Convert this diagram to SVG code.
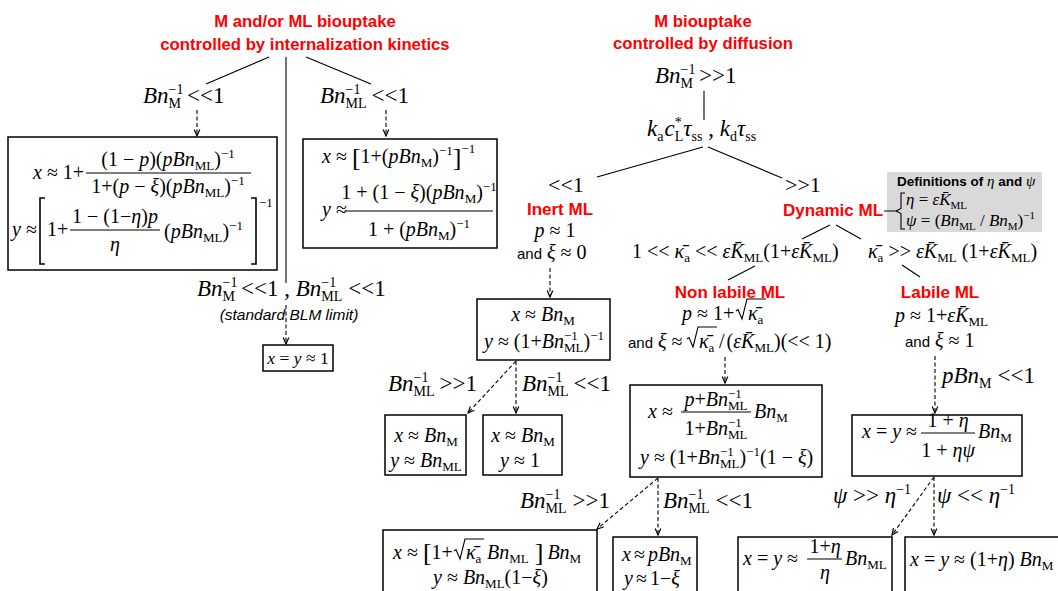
<svg xmlns="http://www.w3.org/2000/svg" width="1058" height="591" viewBox="0 0 1058 591">
<defs>
<style>
.s{font-family:"Liberation Serif","Times New Roman",serif;font-size:20px;fill:#000}
.l{font-size:23px}
.i{font-style:italic}
.c{font-size:13px}
.cl{font-size:14px}
.a{font-family:"Liberation Sans",Arial,sans-serif;font-size:15px}
.db{font-family:"Liberation Sans",Arial,sans-serif;font-size:13.5px;font-weight:bold;font-style:normal}
.r{font-family:"Liberation Sans",Arial,sans-serif;font-weight:bold;fill:#ff0000;font-size:17px}
.t{font-size:16.7px}
.ln{stroke:#000;stroke-width:1.1;fill:none}
.d{stroke-dasharray:4 2.5;marker-end:url(#ah)}
.bx{fill:#fff;stroke:#000;stroke-width:1.5}
.br{stroke:#000;stroke-width:1.6;fill:none}
</style>
<marker id="ah" viewBox="0 0 10 10" refX="9" refY="5" markerWidth="8" markerHeight="8" markerUnits="userSpaceOnUse" orient="auto"><path d="M1,1.5 L9,5 L1,8.5" fill="none" stroke="#000" stroke-width="1.5"/></marker>
</defs>
<rect width="1058" height="591" fill="#fff"/>

<g id="connectors" class="ln">
<line x1="269" y1="57" x2="206" y2="84"/>
<line x1="286" y1="57" x2="286" y2="283"/>
<line x1="306" y1="57" x2="371" y2="84"/>
<line x1="704" y1="91" x2="704" y2="120"/>
<line x1="703" y1="147" x2="597" y2="177"/>
<line x1="708" y1="147" x2="782" y2="178"/>
<line x1="830" y1="225" x2="802" y2="239"/>
<line x1="836" y1="225" x2="861" y2="239"/>
<line x1="755" y1="266" x2="728" y2="280"/>
<line x1="902" y1="265" x2="920" y2="277"/>
<line class="d" x1="197" y1="110" x2="197" y2="136"/>
<line class="d" x1="386" y1="110" x2="386" y2="136"/>
<line class="d" x1="286" y1="305" x2="286" y2="344"/>
<line class="d" x1="550" y1="268" x2="550" y2="297"/>
<line class="d" x1="516" y1="361" x2="468" y2="413"/>
<line class="d" x1="516" y1="361" x2="516" y2="413"/>
<line class="d" x1="725" y1="357" x2="725" y2="383"/>
<line class="d" x1="935" y1="356" x2="935" y2="413"/>
<line class="d" x1="658" y1="478" x2="597" y2="529"/>
<line class="d" x1="658" y1="478" x2="658" y2="535"/>
<line class="d" x1="934" y1="477" x2="892" y2="535"/>
<line class="d" x1="934" y1="477" x2="934" y2="535"/>
</g>

<g id="title-kinetics">
<text class="r t" x="305" y="27" text-anchor="middle">M and/or ML biouptake</text>
<text class="r t" x="305" y="50" text-anchor="middle">controlled by internalization kinetics</text>
</g>

<g id="cond-kin-M">
<text class="s l" x="143" y="103"><tspan class="i">Bn</tspan><tspan class="cl" dy="-9">−1</tspan><tspan class="cl" dx="-14.9" dy="14">M</tspan><tspan dy="-5" dx="6">&lt;&lt;1</tspan></text>
</g>

<g id="box-kin-M">
<rect class="bx" x="8" y="137" width="269" height="133"/>
<text class="s" x="33" y="179"><tspan class="i">x</tspan> ≈ 1+</text>
<line class="ln" x1="86" y1="173" x2="251" y2="173"/>
<text class="s" x="168" y="166" text-anchor="middle">(1 − <tspan class="i">p</tspan>)(<tspan class="i">pBn</tspan><tspan class="c" dy="4">ML</tspan><tspan dy="-4">)</tspan><tspan class="c" dy="-8">−1</tspan></text>
<text class="s" x="168" y="193" text-anchor="middle">1+(<tspan class="i">p</tspan> − <tspan class="i">ξ</tspan>)(<tspan class="i">pBn</tspan><tspan class="c" dy="4">ML</tspan><tspan dy="-4">)</tspan><tspan class="c" dy="-8">−1</tspan></text>
<text class="s" x="12" y="236"><tspan class="i">y</tspan> ≈</text>
<path class="br" d="M45,198 H40 V264 H45 M251,198 H256 V264 H251"/>
<text class="s c" x="259" y="207">−1</text>
<text class="s" x="47" y="236">1+</text>
<line class="ln" x1="70" y1="230" x2="160" y2="230"/>
<text class="s" x="115" y="223" text-anchor="middle">1 − (1−<tspan class="i">η</tspan>)<tspan class="i">p</tspan></text>
<text class="s i" x="115" y="251" text-anchor="middle">η</text>
<text class="s" x="164" y="238">(<tspan class="i">pBn</tspan><tspan class="c" dy="4">ML</tspan><tspan dy="-4">)</tspan><tspan class="c" dy="-8">−1</tspan></text>
</g>

<g id="cond-kin-ML">
<text class="s l" x="320" y="103"><tspan class="i">Bn</tspan><tspan class="cl" dy="-9">−1</tspan><tspan class="cl" dx="-14.9" dy="14">ML</tspan><tspan dy="-5" dx="5">&lt;&lt;1</tspan></text>
</g>

<g id="box-kin-ML">
<rect class="bx" x="303" y="139" width="194" height="109"/>
<text class="s" x="322" y="163"><tspan class="i">x</tspan> ≈ <tspan font-size="26" dy="3">[</tspan><tspan dy="-3">1+(</tspan><tspan class="i">pBn</tspan><tspan class="c" dy="4">M</tspan><tspan dy="-4">)</tspan><tspan class="c" dy="-8">−1</tspan><tspan font-size="26" dy="11">]</tspan><tspan class="c" dy="-13">−1</tspan></text>
<text class="s" x="322" y="216"><tspan class="i">y</tspan> ≈</text>
<line class="ln" x1="346" y1="211" x2="493" y2="211"/>
<text class="s" x="419" y="199" text-anchor="middle">1 + (1 − <tspan class="i">ξ</tspan>)(<tspan class="i">pBn</tspan><tspan class="c" dy="4">M</tspan><tspan dy="-4">)</tspan><tspan class="c" dy="-8">−1</tspan></text>
<text class="s" x="419" y="236" text-anchor="middle">1 + (<tspan class="i">pBn</tspan><tspan class="c" dy="4">M</tspan><tspan dy="-4">)</tspan><tspan class="c" dy="-8">−1</tspan></text>
</g>

<g id="cond-BLM">
<text class="s l" x="197" y="296"><tspan class="i">Bn</tspan><tspan class="cl" dy="-9">−1</tspan><tspan class="cl" dx="-14.9" dy="14">M</tspan><tspan dy="-5" dx="6">&lt;&lt;1 , </tspan><tspan class="i">Bn</tspan><tspan class="cl" dy="-9">−1</tspan><tspan class="cl" dx="-14.9" dy="14">ML</tspan><tspan dy="-5" dx="6">&lt;&lt;1</tspan></text>
<text class="a" x="289" y="320" text-anchor="middle" style="font-style:italic;font-size:15.5px">(standard BLM limit)</text>
</g>

<g id="box-BLM">
<rect class="bx" x="263" y="345" width="70" height="26"/>
<text class="s" x="298" y="364" text-anchor="middle" style="font-size:17.5px"><tspan class="i">x</tspan> = <tspan class="i">y</tspan> ≈ 1</text>
</g>

<g id="title-diffusion">
<text class="r t" x="703" y="27" text-anchor="middle">M biouptake</text>
<text class="r t" x="703" y="49" text-anchor="middle">controlled by diffusion</text>
</g>

<g id="cond-diff">
<text class="s l" x="655" y="83"><tspan class="i">Bn</tspan><tspan class="cl" dy="-9">−1</tspan><tspan class="cl" dx="-14.9" dy="14">M</tspan><tspan dy="-5" dx="6">&gt;&gt;1</tspan></text>
</g>

<g id="kinetics">
<text class="s l" x="647" y="136"><tspan class="i">k</tspan><tspan class="cl" dy="5">a</tspan><tspan class="i" dy="-5" dx="1">c</tspan><tspan class="cl" dy="-9">*</tspan><tspan class="cl" dx="-7" dy="14">L</tspan><tspan class="i" dy="-5">τ</tspan><tspan class="cl" dy="5">ss</tspan><tspan dy="-5" dx="6">, </tspan><tspan class="i">k</tspan><tspan class="cl" dy="5">d</tspan><tspan class="i" dy="-5">τ</tspan><tspan class="cl" dy="5">ss</tspan></text>
</g>

<g id="cond-inert">
<text class="s" x="548" y="192" style="font-size:22px">&lt;&lt;1</text>
</g>

<g id="cond-dynamic">
<text class="s" x="785" y="192" style="font-size:22px">&gt;&gt;1</text>
</g>

<g id="inert">
<text class="r" x="560" y="215" text-anchor="middle">Inert ML</text>
<text class="s" x="555" y="237" text-anchor="middle"><tspan class="i">p</tspan> ≈ 1</text>
<text class="s" x="517" y="259"><tspan class="a">and</tspan> <tspan class="i">ξ</tspan> ≈ 0</text>
</g>

<g id="box-inert">
<rect class="bx" x="477" y="299" width="133" height="61"/>
<text class="s" x="543" y="321" text-anchor="middle"><tspan class="i">x</tspan> ≈ <tspan class="i">Bn</tspan><tspan class="c" dy="4">M</tspan></text>
<text class="s" x="484" y="348"><tspan class="i">y</tspan> ≈ (1+<tspan class="i">Bn</tspan><tspan class="c" dy="-8">−1</tspan><tspan class="c" dx="-13.8" dy="12">ML</tspan><tspan dy="-4">)</tspan><tspan class="c" dy="-8">−1</tspan></text>
</g>

<g id="cond-inert-hi">
<text class="s l" x="388" y="391"><tspan class="i">Bn</tspan><tspan class="cl" dy="-9">−1</tspan><tspan class="cl" dx="-14.9" dy="14">ML</tspan><tspan dy="-5" dx="5">&gt;&gt;1</tspan></text>
</g>
<g id="cond-inert-lo">
<text class="s l" x="522" y="391"><tspan class="i">Bn</tspan><tspan class="cl" dy="-9">−1</tspan><tspan class="cl" dx="-14.9" dy="14">ML</tspan><tspan dy="-5" dx="5">&lt;&lt;1</tspan></text>
</g>

<g id="box-inert-hi">
<rect class="bx" x="385" y="415" width="81" height="60"/>
<text class="s" x="426" y="442" text-anchor="middle"><tspan class="i">x</tspan> ≈ <tspan class="i">Bn</tspan><tspan class="c" dy="4">M</tspan></text>
<text class="s" x="426" y="467" text-anchor="middle"><tspan class="i">y</tspan> ≈ <tspan class="i">Bn</tspan><tspan class="c" dy="4">ML</tspan></text>
</g>

<g id="box-inert-lo">
<rect class="bx" x="483" y="415" width="79" height="60"/>
<text class="s" x="523" y="442" text-anchor="middle"><tspan class="i">x</tspan> ≈ <tspan class="i">Bn</tspan><tspan class="c" dy="4">M</tspan></text>
<text class="s" x="520" y="467" text-anchor="middle"><tspan class="i">y</tspan> ≈ 1</text>
</g>

<g id="dynamic">
<text class="r" x="833" y="216" text-anchor="middle">Dynamic ML</text>
</g>

<g id="definitions">
<rect x="887" y="172" width="155" height="60" fill="#d9d9d9"/>
<path class="ln" d="M884,211 H896 M905,193 H901 V208.5 L896,211 L901,213.5 V229 H905"/>
<text class="s" x="897" y="186"><tspan class="db">Definitions of </tspan><tspan class="i" style="font-size:15px">η</tspan><tspan class="db"> and </tspan><tspan class="i" style="font-size:15px">ψ</tspan></text>
<text class="s" x="906" y="205" style="font-size:17px"><tspan class="i">η</tspan> = <tspan class="i">εK&#x304;</tspan><tspan style="font-size:11px" dy="4">ML</tspan></text>
<text class="s" x="906" y="226" style="font-size:17px"><tspan class="i">ψ</tspan> = (<tspan class="i">Bn</tspan><tspan style="font-size:11px" dy="4">ML</tspan><tspan dy="-4"> / </tspan><tspan class="i">Bn</tspan><tspan style="font-size:11px" dy="4">M</tspan><tspan dy="-4">)</tspan><tspan style="font-size:11px" dy="-7">−1</tspan></text>
</g>

<g id="cond-nonlabile">
<text class="s" x="632" y="258">1 &lt;&lt; <tspan class="i">κ&#x304;</tspan><tspan class="c" dy="4">a</tspan><tspan dy="-4"> &lt;&lt; </tspan><tspan class="i">εK&#x304;</tspan><tspan class="c" dy="4">ML</tspan><tspan dy="-4">(1+</tspan><tspan class="i">εK&#x304;</tspan><tspan class="c" dy="4">ML</tspan><tspan dy="-4">)</tspan></text>
</g>

<g id="nonlabile">
<text class="r" x="730" y="298" text-anchor="middle">Non labile ML</text>
<text class="s" x="682" y="320"><tspan class="i">p</tspan> ≈ 1+</text>
<path class="ln" d="M736,311 l2,-1.5 l4,9.5 l5,-20 h19"/>
<text class="s" x="748" y="320"><tspan class="i">κ&#x304;</tspan><tspan class="c" dy="4">a</tspan></text>
<text class="s" x="628" y="348"><tspan class="a">and</tspan> <tspan class="i">ξ</tspan> ≈</text>
<path class="ln" d="M687,339 l2,-1.5 l4,9.5 l5,-20 h19"/>
<text class="s" x="699" y="348"><tspan class="i">κ&#x304;</tspan><tspan class="c" dy="4">a</tspan></text>
<text class="s" x="719" y="348">/<tspan dx="2">(</tspan><tspan class="i">εK&#x304;</tspan><tspan class="c" dy="4">ML</tspan><tspan dy="-4">)(&lt;&lt; 1)</tspan></text>
</g>

<g id="box-nonlabile">
<rect class="bx" x="630" y="385" width="192" height="92"/>
<text class="s" x="648" y="418"><tspan class="i">x</tspan> ≈</text>
<line class="ln" x1="681" y1="412" x2="751" y2="412"/>
<text class="s" x="716" y="406" text-anchor="middle"><tspan class="i">p</tspan>+<tspan class="i">Bn</tspan><tspan class="c" dy="-8">−1</tspan><tspan class="c" dx="-13.8" dy="12">ML</tspan></text>
<text class="s" x="716" y="435" text-anchor="middle">1+<tspan class="i">Bn</tspan><tspan class="c" dy="-8">−1</tspan><tspan class="c" dx="-13.8" dy="12">ML</tspan></text>
<text class="s" x="754" y="418"><tspan class="i">Bn</tspan><tspan class="c" dy="4">M</tspan></text>
<text class="s" x="640" y="464"><tspan class="i">y</tspan> ≈ (1+<tspan class="i">Bn</tspan><tspan class="c" dy="-8">−1</tspan><tspan class="c" dx="-13.8" dy="12">ML</tspan><tspan dy="-4">)</tspan><tspan class="c" dy="-8">−1</tspan><tspan dy="8">(1 − <tspan class="i">ξ</tspan>)</tspan></text>
</g>

<g id="cond-labile">
<text class="s" x="868" y="258"><tspan class="i">κ&#x304;</tspan><tspan class="c" dy="4">a</tspan><tspan dy="-4"> &gt;&gt; </tspan><tspan class="i">εK&#x304;</tspan><tspan class="c" dy="4">ML</tspan><tspan dy="-4"> (1+</tspan><tspan class="i">εK&#x304;</tspan><tspan class="c" dy="4">ML</tspan><tspan dy="-4">)</tspan></text>
</g>

<g id="labile">
<text class="r" x="940" y="298" text-anchor="middle">Labile ML</text>
<text class="s" x="895" y="322"><tspan class="i">p</tspan> ≈ 1+<tspan class="i">εK&#x304;</tspan><tspan class="c" dy="4">ML</tspan></text>
<text class="s" x="905" y="347"><tspan class="a">and</tspan> <tspan class="i">ξ</tspan> ≈ 1</text>
</g>

<g id="cond-pBn">
<text class="s l" x="942" y="383"><tspan class="i">pBn</tspan><tspan class="cl" dy="5">M</tspan><tspan dy="-5" dx="6">&lt;&lt;1</tspan></text>
</g>

<g id="box-labile">
<rect class="bx" x="852" y="415" width="170" height="61"/>
<text class="s" x="862" y="438"><tspan class="i">x</tspan> = <tspan class="i">y</tspan> ≈</text>
<line class="ln" x1="921" y1="433" x2="975" y2="433"/>
<text class="s" x="948" y="427" text-anchor="middle">1 + <tspan class="i">η</tspan></text>
<text class="s" x="948" y="457" text-anchor="middle">1 + <tspan class="i">ηψ</tspan></text>
<text class="s" x="978" y="438"><tspan class="i">Bn</tspan><tspan class="c" dy="4">M</tspan></text>
</g>

<g id="cond-nl-hi">
<text class="s l" x="520" y="508"><tspan class="i">Bn</tspan><tspan class="cl" dy="-9">−1</tspan><tspan class="cl" dx="-14.9" dy="14">ML</tspan><tspan dy="-5" dx="6">&gt;&gt;1</tspan></text>
</g>
<g id="cond-nl-lo">
<text class="s l" x="663" y="508"><tspan class="i">Bn</tspan><tspan class="cl" dy="-9">−1</tspan><tspan class="cl" dx="-14.9" dy="14">ML</tspan><tspan dy="-5" dx="6">&lt;&lt;1</tspan></text>
</g>

<g id="box-nl-hi">
<rect class="bx" x="383" y="530" width="214" height="70"/>
<text class="s" x="393" y="559"><tspan class="i">x</tspan> ≈ <tspan font-size="26" dy="2">[</tspan><tspan dy="-2">1+</tspan></text>
<path class="ln" d="M454,551 l2,-1.5 l4,9.5 l5,-20 h19"/>
<text class="s" x="466" y="559"><tspan class="i">κ&#x304;</tspan><tspan class="c" dy="4">a</tspan></text>
<text class="s" x="487" y="559"><tspan class="i">Bn</tspan><tspan class="c" dy="4">ML</tspan><tspan font-size="26" dx="6" dy="-2">]</tspan><tspan class="i" dx="4" dy="-2">Bn</tspan><tspan class="c" dy="4">M</tspan></text>
<text class="s" x="433" y="584"><tspan class="i">y</tspan> ≈ <tspan class="i">Bn</tspan><tspan class="c" dy="4">ML</tspan><tspan dy="-4">(1−<tspan class="i">ξ</tspan>)</tspan></text>
</g>

<g id="box-nl-lo">
<rect class="bx" x="613" y="537" width="84" height="60"/>
<text class="s" x="622" y="561"><tspan class="i">x</tspan><tspan dx="3">≈</tspan><tspan class="i" dx="3">pBn</tspan><tspan class="c" dy="4">M</tspan></text>
<text class="s" x="624" y="585"><tspan class="i">y</tspan><tspan dx="3">≈</tspan><tspan dx="3">1−</tspan><tspan class="i">ξ</tspan></text>
</g>

<g id="cond-l-hi">
<text class="s l" x="833" y="503"><tspan class="i">ψ</tspan> &gt;&gt; <tspan class="i">η</tspan><tspan class="cl" dy="-9">−1</tspan></text>
</g>
<g id="cond-l-lo">
<text class="s l" x="937" y="503"><tspan class="i">ψ</tspan> &lt;&lt; <tspan class="i">η</tspan><tspan class="cl" dy="-9">−1</tspan></text>
</g>

<g id="box-l-hi">
<rect class="bx" x="738" y="537" width="154" height="60"/>
<text class="s" x="743" y="565"><tspan class="i">x</tspan> = <tspan class="i">y</tspan> ≈</text>
<line class="ln" x1="807" y1="559" x2="842" y2="559"/>
<text class="s" x="825" y="553" text-anchor="middle">1+<tspan class="i">η</tspan></text>
<text class="s i" x="825" y="579" text-anchor="middle">η</text>
<text class="s" x="845" y="565"><tspan class="i">Bn</tspan><tspan class="c" dy="4">ML</tspan></text>
</g>

<g id="box-l-lo">
<rect class="bx" x="905" y="537" width="160" height="60"/>
<text class="s" x="910" y="566"><tspan class="i">x</tspan> = <tspan class="i">y</tspan> ≈ (1+<tspan class="i">η</tspan>) <tspan class="i">Bn</tspan><tspan class="c" dy="4">M</tspan></text>
</g>
</svg>
